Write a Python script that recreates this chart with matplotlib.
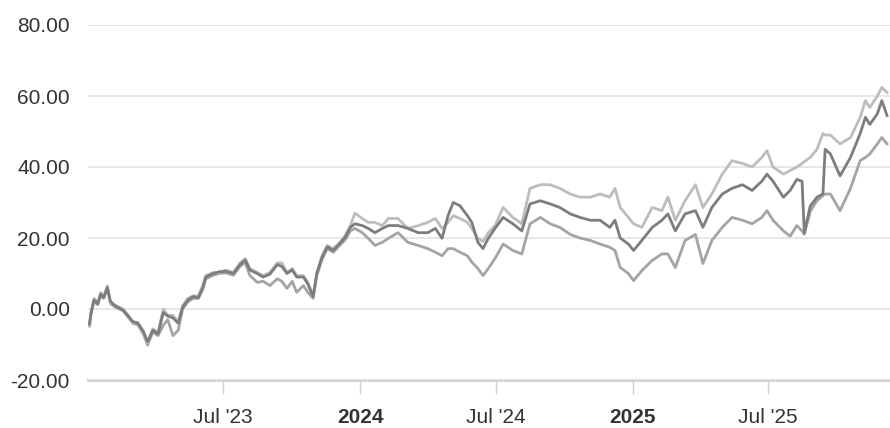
import matplotlib
matplotlib.use("Agg")
import matplotlib.pyplot as plt
import pandas as pd

dates = [
    "2023-01-03", "2023-01-05", "2023-01-09", "2023-01-14", "2023-01-18", "2023-01-22",
    "2023-01-27", "2023-01-31", "2023-02-07", "2023-02-17", "2023-02-24", "2023-03-02",
    "2023-03-09", "2023-03-16", "2023-03-22", "2023-03-29", "2023-04-05", "2023-04-12",
    "2023-04-18", "2023-04-25", "2023-05-02", "2023-05-08", "2023-05-15", "2023-05-22",
    "2023-05-29", "2023-06-04", "2023-06-08", "2023-06-18", "2023-06-26", "2023-07-05",
    "2023-07-15", "2023-07-24", "2023-07-31", "2023-08-06", "2023-08-16", "2023-08-24",
    "2023-09-02", "2023-09-12", "2023-09-18", "2023-09-25", "2023-10-02", "2023-10-08",
    "2023-10-17", "2023-10-23", "2023-10-30", "2023-11-04", "2023-11-11", "2023-11-18",
    "2023-11-26", "2023-12-05", "2023-12-12", "2023-12-19", "2023-12-25",
    "2024-01-04", "2024-01-12", "2024-01-21", "2024-01-31", "2024-02-08", "2024-02-21",
    "2024-03-05", "2024-03-19", "2024-04-01", "2024-04-11", "2024-04-20", "2024-04-28",
    "2024-05-05", "2024-05-14", "2024-05-24", "2024-05-30", "2024-06-07", "2024-06-14",
    "2024-06-21", "2024-06-30", "2024-07-11", "2024-07-24", "2024-08-05", "2024-08-16",
    "2024-08-30", "2024-09-12", "2024-09-25", "2024-10-09", "2024-10-22", "2024-11-05",
    "2024-11-18", "2024-12-01", "2024-12-08", "2024-12-15", "2024-12-26",
    "2025-01-02", "2025-01-13", "2025-01-27", "2025-02-09", "2025-02-17", "2025-02-27",
    "2025-03-12", "2025-03-26", "2025-04-05", "2025-04-17", "2025-05-01", "2025-05-14",
    "2025-05-28", "2025-06-10", "2025-06-23", "2025-06-30", "2025-07-08", "2025-07-22",
    "2025-07-31", "2025-08-09", "2025-08-16", "2025-08-19", "2025-08-27", "2025-09-05",
    "2025-09-13", "2025-09-16", "2025-09-23", "2025-10-06", "2025-10-20", "2025-11-02",
    "2025-11-09", "2025-11-15", "2025-11-25", "2025-12-01", "2025-12-08",
]

series_light = [
    -4.6, -1.0, 3.0, 1.8, 4.6, 3.7, 6.6, 1.8, 1.0, 0.0, -1.8, -3.8,
    -3.8, -6.6, -9.7, -5.6, -6.6, 0.0, -1.8, -1.8, -3.8, 1.0, 3.0, 3.7,
    3.7, 6.6, 9.4, 10.3, 10.3, 11.0,
    10.3, 13.0, 14.2, 11.4, 10.3, 9.4, 10.3, 13.0, 13.0, 10.3, 11.4, 9.4,
    9.4, 7.5, 3.7, 10.3, 15.0, 17.9, 17.0, 18.8, 20.7, 23.5, 27.0,
    25.5, 24.4, 24.4, 23.5, 25.5, 25.5, 22.7, 23.5, 24.4, 25.5, 22.7, 24.4,
    26.3, 25.5, 24.4, 22.7, 19.9, 19.0, 21.5, 23.5, 28.6, 25.8, 24.0, 34.0,
    35.0, 35.0, 34.0, 32.4, 31.5, 31.5, 32.4, 31.5, 34.0, 28.6, 25.8,
    24.0, 23.0, 28.6, 27.7, 31.5, 25.0, 30.5, 35.0, 28.6, 32.4, 38.0, 41.8,
    41.0, 40.0, 42.7, 44.6, 40.0, 38.0, 39.0, 40.0, 41.0, 41.5, 42.7, 45.0,
    49.4, 49.0, 49.0, 46.5, 48.3, 54.0, 58.7, 56.8, 60.0, 62.4, 61.0,
]

series_dark = [
    -4.2, -1.2, 2.5, 1.5, 4.2, 3.2, 6.0, 2.2, 0.8, -0.3, -2.0, -3.5,
    -4.0, -6.2, -9.2, -6.0, -7.0, -1.0, -2.0, -2.5, -4.0, 0.5, 2.5, 3.5,
    3.2, 6.0, 9.0, 10.0, 10.5, 10.6,
    10.0, 12.5, 13.8, 11.0, 10.0, 9.0, 9.8, 12.5, 12.0, 10.0, 11.0, 9.0,
    9.0, 7.0, 3.5, 10.0, 14.5, 17.5, 16.5, 18.5, 20.2, 23.0, 24.0,
    23.5, 22.7, 21.5, 22.7, 23.5, 23.5, 22.7, 21.5, 21.5, 22.7, 19.9, 26.3,
    30.0, 29.1, 26.3, 24.4, 18.8, 17.0, 19.9, 22.7, 25.8, 24.0, 22.0, 29.6,
    30.5, 29.6, 28.6, 26.8, 25.8, 25.0, 25.0, 23.0, 25.0, 20.0, 18.3,
    16.5, 19.3, 23.0, 25.0, 26.8, 22.0, 26.8, 27.7, 23.0, 28.6, 32.4, 34.0,
    35.0, 33.4, 36.0, 38.0, 36.0, 31.5, 33.4, 36.5, 36.0, 21.5, 29.0, 31.5,
    32.4, 45.0, 43.7, 37.5, 42.7, 49.4, 54.0, 52.0, 55.0, 58.7, 54.5,
]

series_medium = [
    -4.8, -1.5, 2.2, 1.2, 3.8, 3.0, 5.8, 1.5, 0.5, -0.5, -2.3, -4.0,
    -4.5, -7.0, -10.2, -6.5, -7.5, -4.6, -3.0, -7.5, -6.0, 0.0, 2.0, 3.0,
    3.0, 5.5, 8.5, 9.5, 10.0, 10.2,
    9.5, 12.0, 13.2, 9.5, 7.5, 7.8, 6.6, 8.5, 7.8, 5.8, 7.8, 4.7,
    6.6, 4.7, 3.0, 9.5, 14.0, 17.0, 16.0, 18.0, 19.5, 22.0, 22.7,
    21.5, 19.9, 17.9, 18.8, 19.9, 21.5, 18.8, 17.9, 17.0, 16.0, 15.0, 17.0,
    17.0, 16.0, 15.0, 13.2, 11.4, 9.4, 11.4, 14.2, 18.3, 16.5, 15.5, 24.0,
    25.8, 24.0, 23.0, 21.0, 20.0, 19.3, 18.3, 17.4, 16.5, 11.7, 10.0,
    8.0, 10.8, 13.7, 15.5, 15.5, 11.7, 19.3, 21.0, 12.8, 19.3, 23.0, 25.8,
    25.0, 24.0, 25.8, 27.7, 25.0, 22.0, 20.5, 23.5, 22.0, 21.0, 27.5, 30.5,
    32.0, 32.4, 32.4, 27.7, 34.0, 41.8, 42.7, 43.7, 46.5, 48.3, 46.5,
]

y_ticks = [-20, 0, 20, 40, 60, 80]
x_ticks = ["2023-07-01", "2024-01-01", "2024-07-01", "2025-01-01", "2025-07-01"]
x_labels = ["Jul '23", "2024", "Jul '24", "2025", "Jul '25"]
bold_labels = ["2024", "2025"]

plt.rcParams["font.family"] = ["Liberation Sans", "DejaVu Sans"]

df = pd.DataFrame({
    "date": pd.to_datetime(dates),
    "light": series_light,
    "dark": series_dark,
    "medium": series_medium,
})

fig = plt.figure(figsize=(8.9, 4.28), dpi=100)
ax = fig.add_axes([88 / 890, 1 - 380 / 428, 802 / 890, (380 - 25) / 428])

ax.plot(df["date"], df["medium"], color="#a4a4a4", lw=2.0, zorder=3)
ax.plot(df["date"], df["light"], color="#bdbdbd", lw=2.0, zorder=4)
ax.plot(df["date"], df["dark"], color="#7d7d7d", lw=2.0, zorder=5)

ax.set_ylim(-20, 80)
ax.set_xlim(pd.Timestamp("2023-01-01"), pd.Timestamp("2025-12-12"))
ax.set_yticks(y_ticks)
ax.set_yticklabels([f"{v:.2f}" for v in y_ticks])
ax.set_xticks(pd.to_datetime(x_ticks))
ax.set_xticklabels(x_labels)
for lab in ax.get_xticklabels():
    if lab.get_text() in bold_labels:
        lab.set_fontweight("bold")

ax.grid(axis="y", color="#e3e3e3", lw=1.2, zorder=0)
ax.grid(axis="x", visible=False)
for side in ["top", "right", "left"]:
    ax.spines[side].set_visible(False)
ax.spines["bottom"].set_color("#d6d6d6")
ax.spines["bottom"].set_linewidth(2.2)
ax.spines["bottom"].set_zorder(1)

ax.tick_params(axis="y", length=0, pad=13, labelsize=15, labelcolor="#333333")
ax.tick_params(axis="x", length=10, width=1, color="#d0d0d0", pad=10,
               labelsize=15, labelcolor="#333333")

fig.savefig("out.png", dpi=100, facecolor="white")
